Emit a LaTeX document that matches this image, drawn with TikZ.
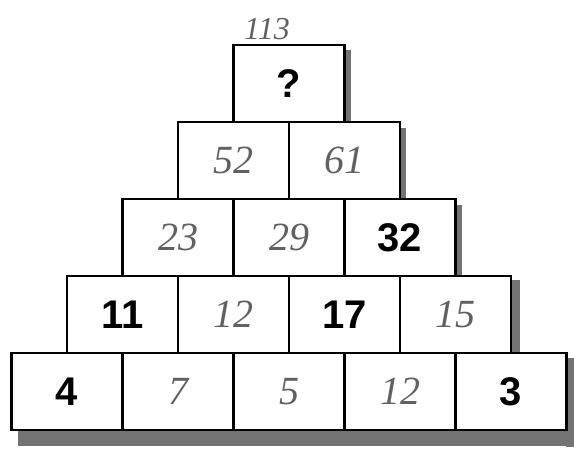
\documentclass[tikz,border=0pt]{standalone}
\usepackage{fontspec}
\setsansfont{Liberation Sans}
\newfontfamily\handfont{Liberation Serif}
\usetikzlibrary{positioning}
\tikzset{
  cell/.style={draw, line width=2.6pt, minimum width=111pt, minimum height=77pt, inner sep=0pt, fill=white},
  printed/.style={font=\sffamily\bfseries\fontsize{40}{40}\selectfont},
  pencil/.style={text=black!62, font=\handfont\itshape\fontsize{40}{40}\selectfont},
}

\begin{document}
\begin{tikzpicture}[x=1pt,y=-1pt]
\useasboundingbox (0,0) rectangle (574,451);
% shadow of the sheet
\fill[black!55] (343,50) rectangle (351,124);
\fill[black!55] (398,128) rectangle (406,202);
\fill[black!55] (454,205) rectangle (462,279);
\fill[black!55] (512,280) rectangle (520,356);
\fill[black!55] (566,358) rectangle (574,447);
\fill[black!55] (18,431) rectangle (574,446);

% rows, top to bottom
\foreach \r/\k/\val/\how in {
  1/1/?/printed,
  2/1/52/pencil, 2/2/61/pencil,
  3/1/23/pencil, 3/2/29/pencil, 3/3/32/printed,
  4/1/11/printed, 4/2/12/pencil, 4/3/17/printed, 4/4/15/pencil,
  5/1/4/printed, 5/2/7/pencil, 5/3/5/pencil, 5/4/12/pencil, 5/5/3/printed}{
  \node[cell, \how] (c\r\k) at ({289-\r*55.5+(\k-0.5)*111}, {83.5+(\r-1)*77}) {\val};
}

\node[pencil, font=\handfont\itshape\fontsize{32}{32}\selectfont, above=0pt of c11, xshift=-22pt] (top) {113};
\end{tikzpicture}
\end{document}
